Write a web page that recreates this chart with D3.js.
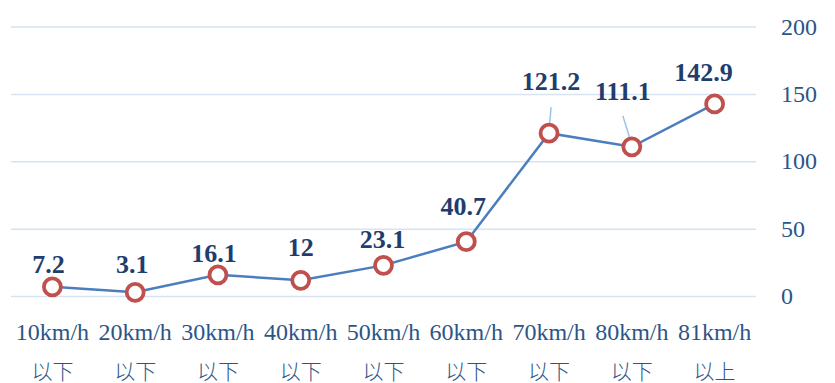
<!DOCTYPE html>
<html>
<head>
<meta charset="utf-8">
<script src="https://cdn.jsdelivr.net/npm/d3@7"></script>
<style>
  html, body { margin: 0; padding: 0; background: #ffffff; }
  svg { display: block; }
</style>
</head>
<body>
<svg id="chart" width="835" height="383"></svg>
<script>
// Speed bands (two-line labels) and the value for each band
const speedLabels = ["10km/h", "20km/h", "30km/h", "40km/h", "50km/h", "60km/h", "70km/h", "80km/h", "81km/h"];
const rangeLabels = ["以下", "以下", "以下", "以下", "以下", "以下", "以下", "以下", "以上"];
const values = [7.2, 3.1, 16.1, 12, 23.1, 40.7, 121.2, 111.1, 142.9];
const yTicks = [0, 50, 100, 150, 200];

// Label placement relative to each marker (dx, dy of the text baseline)
const labelShift = [[-4, -14], [-3, -19], [-4, -13], [0, -24], [-1, -17], [-3, -27], [2, -43], [-9, -47], [-11, -23]];
// Leader lines drawn for labels that sit far from their marker
const leaders = { 6: [[2, -26], [0, -2]], 7: [[-9, -31], [0, -2]] };

const svg = d3.select("#chart");
const plotLeft = 11, plotRight = 756, plotTop = 27, plotBottom = 296.5;

const x = d3.scaleBand().domain(d3.range(values.length)).range([plotLeft, plotRight]);
const y = d3.scaleLinear().domain([0, 200]).range([plotBottom, plotTop]);
const cx = i => x(i) + x.bandwidth() / 2;

// Horizontal gridlines
svg.append("g").selectAll("line").data(yTicks).join("line")
  .attr("x1", plotLeft).attr("x2", plotRight)
  .attr("y1", d => y(d)).attr("y2", d => y(d))
  .attr("stroke", "#d6e3f3").attr("stroke-width", 1.5);

// Right-hand value axis
const yAxis = svg.append("g")
  .attr("transform", `translate(${plotRight},0)`)
  .call(d3.axisRight(y).tickValues(yTicks).tickSize(0).tickPadding(25));
yAxis.select(".domain").remove();
yAxis.selectAll("text")
  .attr("font-family", "'Liberation Serif', serif")
  .attr("font-size", 24)
  .attr("fill", "#2c5587")
  .attr("dy", "0.3em");

// Category axis: two lines per tick
const xAxis = svg.append("g")
  .attr("transform", `translate(0,${plotBottom})`)
  .call(d3.axisBottom(x).tickSize(0).tickFormat(() => ""));
xAxis.select(".domain").remove();
xAxis.selectAll(".tick").each(function (d) {
  const t = d3.select(this);
  t.append("text")
    .attr("y", 43).attr("text-anchor", "middle")
    .attr("font-family", "'Liberation Serif', serif")
    .attr("font-size", 24).attr("fill", "#2c5587")
    .text(speedLabels[d]);
  t.append("text")
    .attr("y", 82).attr("text-anchor", "middle")
    .attr("font-family", "'Noto Sans CJK SC', sans-serif")
    .attr("font-weight", 300)
    .attr("font-size", 21).attr("fill", "#2c5587")
    .text(rangeLabels[d]);
});

// Leader lines
Object.entries(leaders).forEach(([i, seg]) => {
  i = +i;
  svg.append("line")
    .attr("x1", cx(i) + seg[0][0]).attr("y1", y(values[i]) + seg[0][1])
    .attr("x2", cx(i) + seg[1][0]).attr("y2", y(values[i]) + seg[1][1])
    .attr("stroke", "#9dc3e6").attr("stroke-width", 1.5);
});

// Series line
const line = d3.line().x((d, i) => cx(i)).y(d => y(d));
svg.append("path").datum(values)
  .attr("d", line)
  .attr("fill", "none")
  .attr("stroke", "#4a7ebf")
  .attr("stroke-width", 2.5);

// Markers
svg.append("g").selectAll("circle").data(values).join("circle")
  .attr("cx", (d, i) => cx(i)).attr("cy", d => y(d))
  .attr("r", 8.5)
  .attr("fill", "#ffffff")
  .attr("stroke", "#c0504d")
  .attr("stroke-width", 3.8);

// Data labels
svg.append("g").selectAll("text").data(values).join("text")
  .attr("x", (d, i) => cx(i) + labelShift[i][0])
  .attr("y", (d, i) => y(d) + labelShift[i][1])
  .attr("text-anchor", "middle")
  .attr("font-family", "'Liberation Serif', serif")
  .attr("font-weight", "bold")
  .attr("font-size", 26)
  .attr("fill", "#1f3d6d")
  .text(d => d);
</script>
</body>
</html>
